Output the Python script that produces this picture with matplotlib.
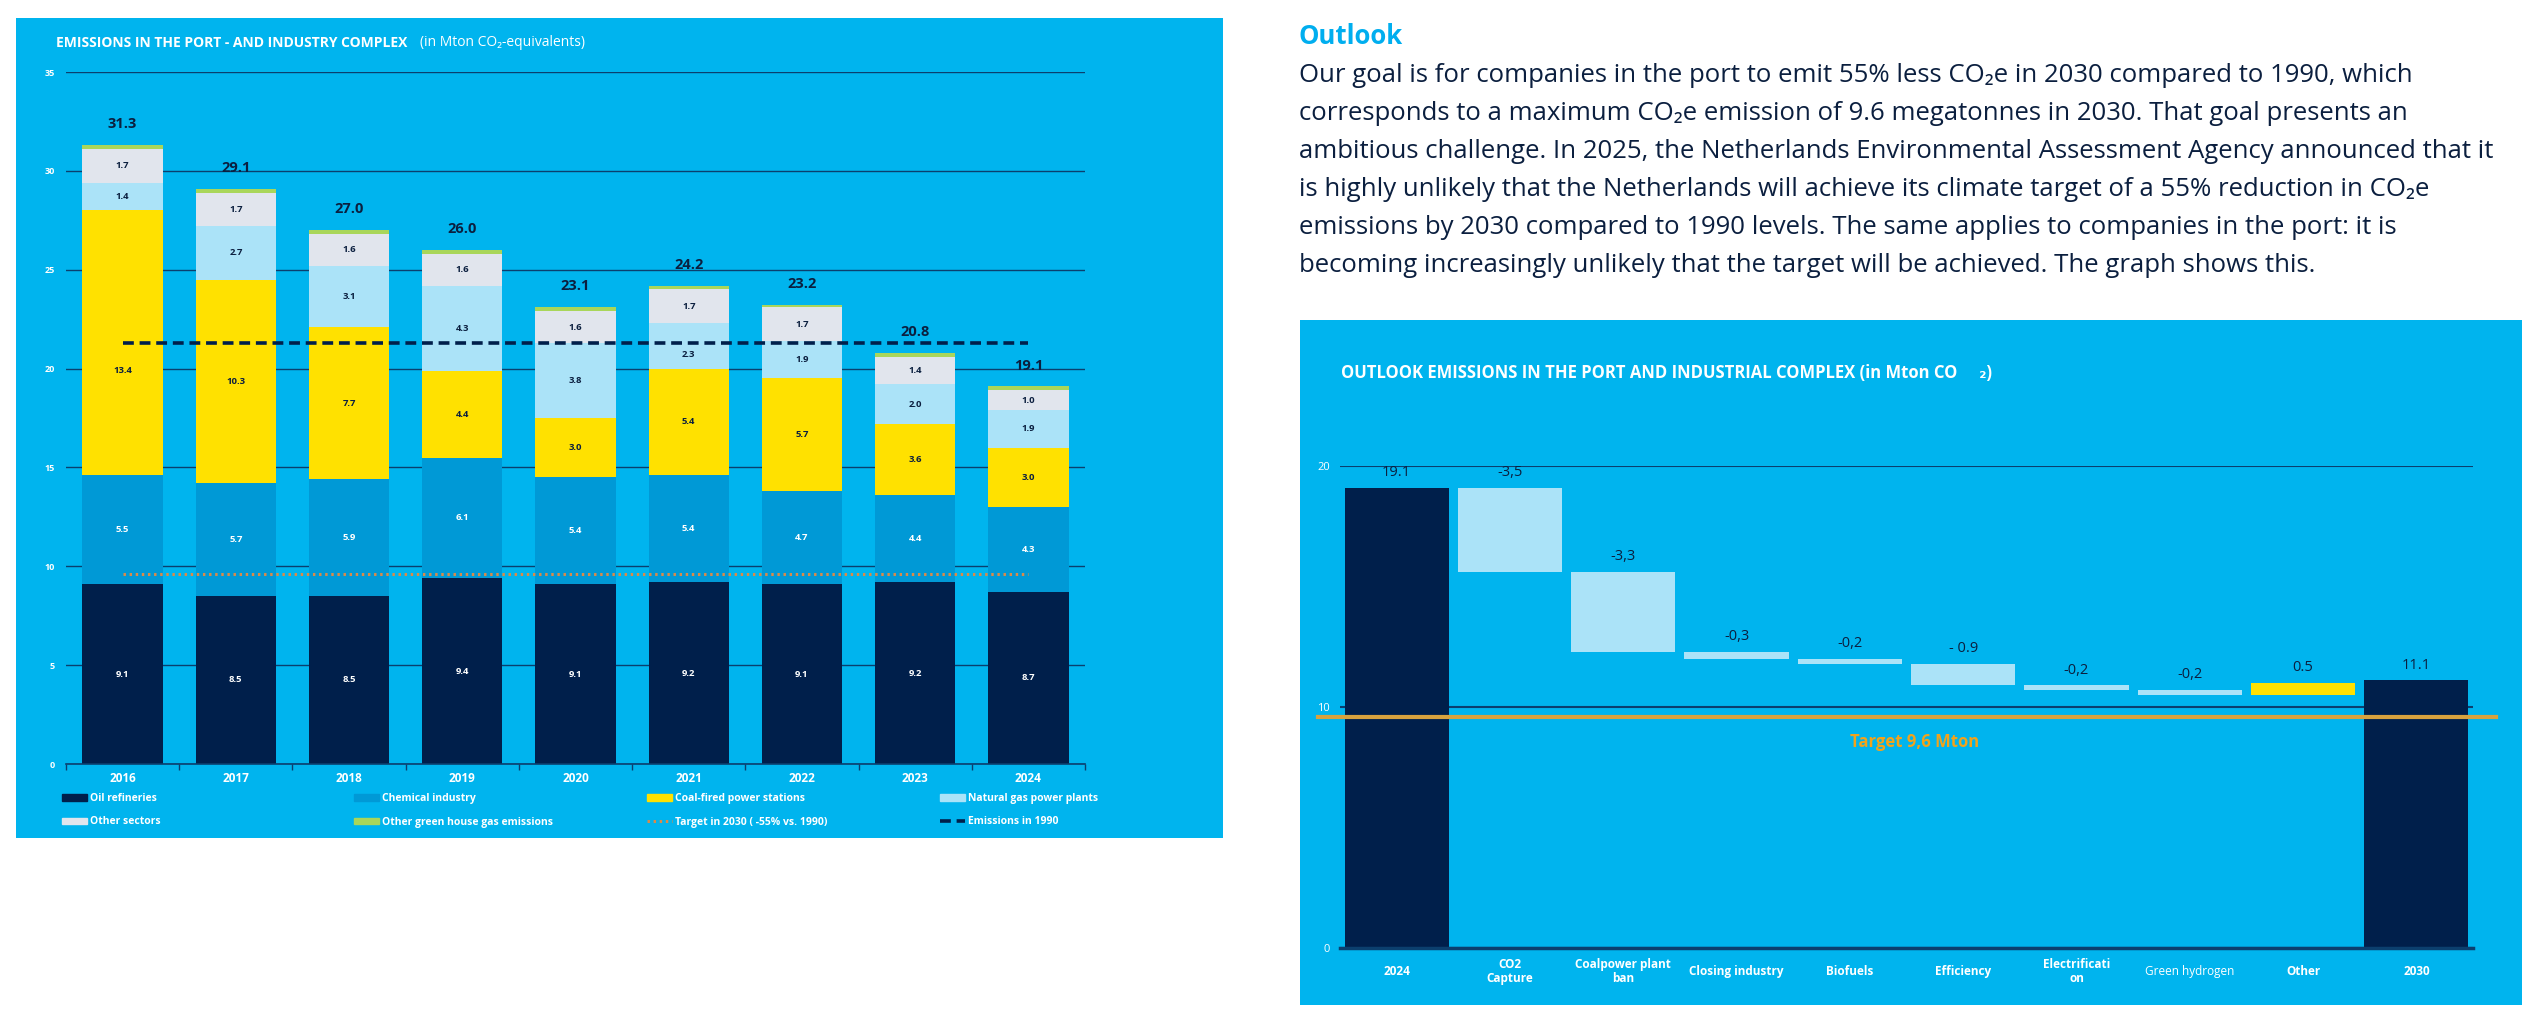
import matplotlib
matplotlib.use("Agg")
import matplotlib.pyplot as plt
from matplotlib.patches import Rectangle, Patch
from matplotlib.lines import Line2D
import numpy as np

plt.rcParams['font.family'] = ['Open Sans', 'DejaVu Sans']

# --- emissions in the port/industry complex (Mton CO2-eq) ---
years = ['2016', '2017', '2018', '2019', '2020', '2021', '2022', '2023', '2024']
oil = [9.1, 8.5, 8.5, 9.4, 9.1, 9.2, 9.1, 9.2, 8.7]
chemical = [5.5, 5.7, 5.9, 6.1, 5.4, 5.4, 4.7, 4.4, 4.3]
coal = [13.4, 10.3, 7.7, 4.4, 3.0, 5.4, 5.7, 3.6, 3.0]
natural_gas = [1.4, 2.7, 3.1, 4.3, 3.8, 2.3, 1.9, 2.0, 1.9]
other_sectors = [1.7, 1.7, 1.6, 1.6, 1.6, 1.7, 1.7, 1.4, 1.0]
other_ghg = [0.2, 0.2, 0.2, 0.2, 0.2, 0.2, 0.1, 0.2, 0.2]
totals = [31.3, 29.1, 27.0, 26.0, 23.1, 24.2, 23.2, 20.8, 19.1]
emissions_1990 = 21.3
target_2030 = 9.6

# --- outlook 2024 -> 2030 (waterfall) ---
steps = ['2024', 'CO2\nCapture', 'Coalpower plant\nban', 'Closing industry', 'Biofuels',
         'Efficiency', 'Electrificati\non', 'Green hydrogen', 'Other', '2030']
start_2024 = 19.1
changes = [-3.5, -3.3, -0.3, -0.2, -0.9, -0.2, -0.2, 0.5]
end_2030 = 11.1
step_labels = ['19.1', '-3,5', '-3,3', '-0,3', '-0,2', '- 0.9', '-0,2', '-0,2', '0.5', '11.1']

paragraph = [
    "Our goal is for companies in the port to emit 55% less CO\u2082e in 2030 compared to 1990, which",
    "corresponds to a maximum CO\u2082e emission of 9.6 megatonnes in 2030. That goal presents an",
    "ambitious challenge. In 2025, the Netherlands Environmental Assessment Agency announced that it",
    "is highly unlikely that the Netherlands will achieve its climate target of a 55% reduction in CO\u2082e",
    "emissions by 2030 compared to 1990 levels. The same applies to companies in the port: it is",
    "becoming increasingly unlikely that the target will be achieved. The graph shows this.",
]

BG = '#00b4ee'
NAVY = '#001f4b'
CHEM = '#0099d6'
YELLOW = '#ffe100'
LIGHT = '#abe3f8'
GREY = '#e1e5ed'
GREEN = '#a9d65a'
GRID = '#0b3f6e'
TEXT = '#0b1f3f'
ORANGE = '#d98a4a'

W, H = 2522, 1026
fig = plt.figure(figsize=(W / 100, H / 100), dpi=100)
fig.patch.set_facecolor('white')


def box(x0, y0, x1, y1):
    # pixel box (top-left origin) -> figure fraction rect
    return [x0 / W, 1 - y1 / H, (x1 - x0) / W, (y1 - y0) / H]


def panel(x0, y0, x1, y1):
    r = box(x0, y0, x1, y1)
    fig.patches.append(Rectangle((r[0], r[1]), r[2], r[3], transform=fig.transFigure,
                                 facecolor=BG, edgecolor='none', zorder=-5))


# ---------------- left: stacked bars ----------------
panel(16, 18, 1223, 838)
fig.text(56 / W, 1 - 43 / H, "EMISSIONS IN THE PORT - AND INDUSTRY COMPLEX", color='white',
         fontsize=10, fontweight='bold', va='center')
fig.text(420 / W, 1 - 43 / H, "(in Mton CO\u2082-equivalents)", color='white', fontsize=10, va='center')

ax1 = fig.add_axes(box(66, 72, 1085, 764))
ax1.set_facecolor('none')
x = np.arange(len(years))
series = [(oil, NAVY, 'white', 'Oil refineries'),
          (chemical, CHEM, 'white', 'Chemical industry'),
          (coal, YELLOW, TEXT, 'Coal-fired power stations'),
          (natural_gas, LIGHT, TEXT, 'Natural gas power plants'),
          (other_sectors, GREY, TEXT, 'Other sectors'),
          (other_ghg, GREEN, None, 'Other green house gas emissions')]
bottom = np.zeros(len(years))
for vals, col, tcol, name in series:
    vals = np.array(vals)
    ax1.bar(x, vals, 0.71, bottom=bottom, color=col, zorder=2)
    if tcol:
        for xi, b, v in zip(x, bottom, vals):
            yc = b + v / 2
            # keep the value label clear of the 1990 line
            if abs(yc - emissions_1990) < 0.6:
                yc = min(yc, emissions_1990 - 0.6) if v < 3 else emissions_1990 - 1.4
            ax1.text(xi, yc, f"{v:.1f}", ha='center', va='center', color=tcol,
                     fontsize=6.8, fontweight='bold', zorder=5)
    bottom += vals

for xi, b, t in zip(x, bottom, totals):
    ax1.annotate(f"{t:.1f}", (xi, b), xytext=(0, 15), textcoords='offset points',
                 ha='center', va='center', color=TEXT, fontsize=10.5, fontweight='bold')

ax1.hlines(emissions_1990, x[0], x[-1], colors=NAVY, linestyles=(0, (3, 1.6)), lw=2.6, zorder=4)
ax1.hlines(target_2030, x[0], x[-1], colors=ORANGE, linestyles=(0, (0.8, 1.2)), lw=2.2, zorder=4)

ax1.set_xlim(-0.5, len(years) - 0.5)
ax1.set_ylim(0, 35)
ax1.set_yticks(range(0, 36, 5))
ax1.grid(axis='y', color=GRID, lw=1, zorder=1)
ax1.set_axisbelow(True)
ax1.set_xticks(x)
ax1.set_xticklabels(years, color='white', fontsize=8.5, fontweight='bold')
ax1.set_xticks(np.arange(-0.5, len(years)), minor=True)
ax1.tick_params(axis='x', which='major', length=0, pad=6)
ax1.tick_params(axis='x', which='minor', length=4, color=GRID, width=1)
ax1.tick_params(axis='y', length=0, pad=8, labelsize=6.5, labelcolor='white')
for lab in ax1.get_yticklabels():
    lab.set_fontweight('bold')
for s in ['left', 'top', 'right']:
    ax1.spines[s].set_visible(False)
ax1.spines['bottom'].set_color(GRID)
ax1.spines['bottom'].set_linewidth(1.2)

# legend in four columns, two rows
handles = [Patch(color=c) for _, c, _, _ in series]
names = [n for _, _, _, n in series]
handles += [Line2D([], [], color=ORANGE, ls=(0, (0.8, 1.2)), lw=2.2),
            Line2D([], [], color=NAVY, ls=(0, (3, 1.6)), lw=2.6)]
names += ['Target in 2030 ( -55% vs. 1990)', 'Emissions in 1990']
col_x = [62, 354, 647, 940]
for i, cx in enumerate(col_x):
    fig.legend([handles[i], handles[i + 4]], [names[i], names[i + 4]], loc='upper left',
               bbox_to_anchor=(cx / W, 1 - 793 / H), frameon=False, borderpad=0,
               borderaxespad=0, handlelength=2.4, handleheight=0.6, handletextpad=0.3,
               labelspacing=1.2, prop=dict(size=7.5, weight='bold'), labelcolor='white')

# ---------------- right: text ----------------
fig.text(1299 / W, 1 - 36 / H, "Outlook", color='#00aeef', fontsize=18.5, fontweight='bold', va='center')
lines = [fig.text(1299 / W, 1 - (76 + 37.8 * i) / H, line, color=TEXT, fontsize=16, va='center')
         for i, line in enumerate(paragraph)]
# size the paragraph so the longest line spans the same width as in the original layout
renderer = fig.canvas.get_renderer()
widest = max(t.get_window_extent(renderer).width for t in lines)
for t in lines:
    t.set_fontsize(16 * 1198 / widest)

# ---------------- right: waterfall ----------------
panel(1300, 320, 2522, 1005)
fig.text(1341 / W, 1 - 373 / H, "OUTLOOK EMISSIONS IN THE PORT AND INDUSTRIAL COMPLEX (in Mton CO     \u2082)",
         color='white', fontsize=12, fontweight='bold', va='center')

ax2 = fig.add_axes(box(1340, 466, 2473, 948))
ax2.set_facecolor('none')
levels = start_2024 + np.cumsum(changes)
before = np.concatenate([[start_2024], levels[:-1]])
xs = np.arange(len(steps))
ax2.bar(xs[0], start_2024, 0.92, color=NAVY, zorder=2)
ax2.bar(xs[-1], end_2030, 0.92, color=NAVY, zorder=2)
mid = xs[1:-1]
ax2.bar(mid, np.abs(changes), 0.92, bottom=np.minimum(before, levels),
        color=[YELLOW if c > 0 else LIGHT for c in changes], zorder=2)
tops = np.concatenate([[start_2024], np.maximum(before, levels), [end_2030]])
for xi, t, lab in zip(xs, tops, step_labels):
    ax2.annotate(lab, (xi, t), xytext=(0, 11), textcoords='offset points', ha='center',
                 va='center', color=TEXT, fontsize=10.5)

ax2.axhline(target_2030, xmin=-0.019, xmax=1.02, color='#d8a23e', lw=3, zorder=4, clip_on=False)
ax2.annotate("Target 9,6 Mton", (0.507, target_2030), xycoords=('axes fraction', 'data'),
             xytext=(0, -18), textcoords='offset points', ha='center', va='center',
             color='#f2a31b', fontsize=12, fontweight='bold')

ax2.set_xlim(-0.5, len(steps) - 0.5)
ax2.set_ylim(0, 20)
ax2.set_yticks([0, 10, 20])
ax2.grid(axis='y', color=GRID, lw=1.5, zorder=1)
ax2.set_axisbelow(True)
ax2.set_xticks(xs)
ax2.set_xticklabels(steps, color='white', fontsize=8.5, fontweight='bold', va='center',
                    linespacing=1.1)
ax2.get_xticklabels()[steps.index('Green hydrogen')].set_fontweight('normal')
ax2.tick_params(axis='x', length=0, pad=17)
ax2.tick_params(axis='y', length=0, pad=7, labelsize=8, labelcolor='white')
for s in ['left', 'top', 'right']:
    ax2.spines[s].set_visible(False)
ax2.spines['bottom'].set_color(GRID)
ax2.spines['bottom'].set_linewidth(2.5)

fig.savefig('out.png', dpi=100, facecolor='white')
